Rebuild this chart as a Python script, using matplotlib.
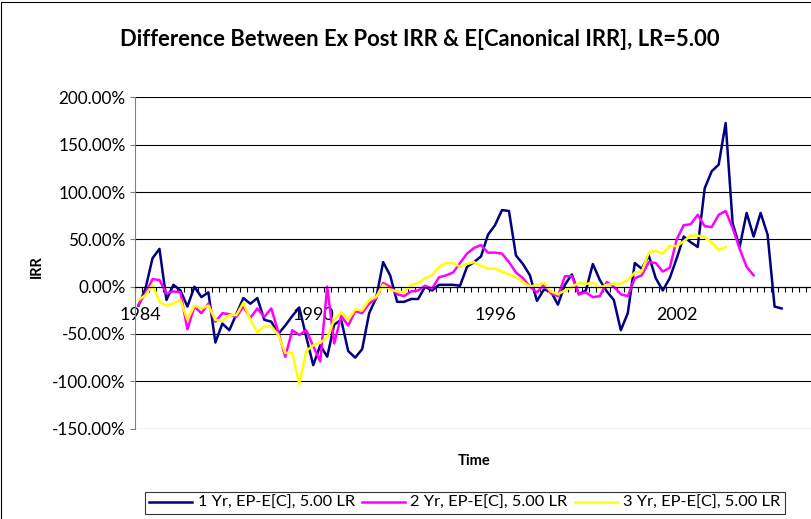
import numpy as np
import matplotlib
matplotlib.use("Agg")
import matplotlib.pyplot as plt
from matplotlib.patches import Rectangle
from matplotlib.ticker import FuncFormatter, FixedLocator

plt.rcParams['font.family'] = ['Lato', 'DejaVu Sans']

# values, in percent, one per period starting 1984
yr1 = [-20, -2, 30, 40, -14, 2, -4, -21, 0, -11, -6, -59, -39, -46, -29,
       -12, -18, -12, -35, -37, -50, -41, -31, -22, -53, -83, -62, -74, -40, -35,
       -68, -75, -66, -28, -12, 26, 12, -16, -16, -13, -13, 0, -4, 2, 2,
       2, 1, 21, 26, 32, 55, 65, 81, 80, 33, 24, 12, -15, -3, -5,
       -19, 2, 13, -8, -4, 24, 7, -5, -14, -46, -28, 25, 19, 33, 9,
       -4, 9, 30, 53, 47, 42, 104, 122, 129, 173, 67, 42, 78, 53, 78,
       55, -21, -23]
yr2 = [-19, -7, 8, 7, -7, -5, -6, -45, -21, -28, -18, -37, -28, -29, -32,
       -21, -33, -23, -32, -23, -48, -74, -46, -51, -46, -63, -79, 0, -60, -31,
       -41, -26, -28, -18, -12, 4, 0, -8, -10, -5, -4, 1, -2, 10, 12,
       15, 25, 35, 41, 44, 36, 36, 35, 26, 15, 9, 0, -6, 2, -7,
       -10, 11, 11, -8, -6, -11, -10, 5, 0, -8, -10, 9, 12, 26, 25,
       16, 20, 50, 65, 66, 76, 64, 63, 76, 80, 62, 40, 21, 12]
yr3 = [-14, -9, 2, -16, -20, -18, -14, -35, -20, -23, -20, -35, -36, -30, -30,
       -17, -35, -48, -42, -42, -51, -70, -70, -103, -68, -62, -59, -54, -35, -27,
       -35, -24, -25, -14, -11, 2, -3, -5, -6, 2, 4, 9, 12, 21, 25,
       25, 21, 24, 26, 22, 19, 19, 16, 13, 10, 5, 0, 2, 4, -5,
       -8, -4, 0, 4, 3, 4, -1, 2, 3, 3, 7, 15, 16, 36, 38,
       35, 43, 43, 48, 54, 54, 52, 47, 39, 42]
year_labels = ['1984', '1990', '1996', '2002']
year_pos = [0.2, 25, 51, 77]
names = ['1 Yr, EP-E[C], 5.00 LR', '2 Yr, EP-E[C], 5.00 LR', '3 Yr, EP-E[C], 5.00 LR']

W, H = 812, 519
fig = plt.figure(figsize=(W / 100, H / 100), dpi=100)
ax = fig.add_axes([135 / W, 1 - 428.6 / H, 699 / W, 331.1 / H])

ax.plot(np.arange(len(yr1)), yr1, color='#000080', lw=1.8, label=names[0])
ax.plot(np.arange(len(yr2)), yr2, color='#FF00FF', lw=1.8, label=names[1])
ax.plot(np.arange(len(yr3)), yr3, color='#FFFF00', lw=1.8, label=names[2])

ax.set_xlim(-0.5, 99.5)
ax.set_ylim(-150, 200)
ax.set_yticks(np.arange(-150, 201, 50))
ax.yaxis.set_major_formatter(FuncFormatter(lambda v, p: '%.2f%%' % v))
ax.grid(axis='y', color='black', lw=0.8)
ax.set_axisbelow(True)

for s in ['top', 'right']:
    ax.spines[s].set_visible(False)
ax.spines['left'].set_color('#808080')
ax.spines['bottom'].set_position(('data', 0))
ax.spines['bottom'].set_color('black')

ax.xaxis.set_major_locator(FixedLocator(year_pos))
ax.set_xticklabels(year_labels)
ax.xaxis.set_minor_locator(FixedLocator(np.arange(-0.5, 100, 1)))
ax.tick_params(axis='x', which='major', length=0, pad=14.5, labelsize=13)
ax.tick_params(axis='x', which='minor', length=3.8, width=0.8, direction='out')
ax.tick_params(axis='y', length=3.8, width=0.8, color='#808080', labelsize=12.3, pad=3)

fig.text(420 / W, 1 - 40 / H, 'Difference Between Ex Post IRR & E[Canonical IRR], LR=5.00',
         ha='center', va='center', fontsize=15.8, fontweight='bold')
fig.text(474 / W, 1 - 461 / H, 'Time', ha='center', va='center', fontsize=10.5, fontweight='bold')
fig.text(37 / W, 1 - 267 / H, 'IRR', ha='center', va='center', rotation=90,
         fontsize=10.5, fontweight='bold')

leg = fig.legend(loc='center', bbox_to_anchor=(465 / W, 1 - 503 / H), ncol=3,
                 fontsize=11.8, frameon=True, fancybox=False, handlelength=2.6,
                 columnspacing=0.45, handletextpad=0.35, borderpad=0.25)
leg.get_frame().set_edgecolor('black')
leg.get_frame().set_linewidth(0.8)

fig.patches.append(Rectangle((1 / W, -0.1), 1.2, 1.1 - 2 / H, transform=fig.transFigure,
                             fill=False, ec='black', lw=0.8))

fig.savefig('out.png', dpi=100)
